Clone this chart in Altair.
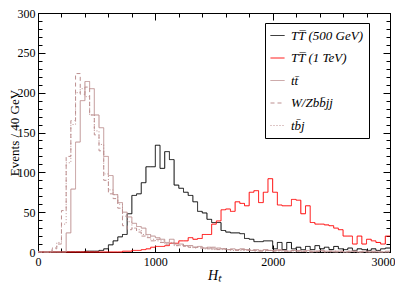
import altair as alt
import pandas as pd

# ---------------- data (events per 40 GeV bin) ----------------
bin_width = 40
n_bins = 75
bin_edges = [i * bin_width for i in range(n_bins + 1)]

series_names = ["TT\u0305 (500 GeV)", "TT\u0305 (1 TeV)", "tt\u0304", "W/Zbb\u0304jj", "tb\u0304j"]
series_colors = ["#000000", "#ff0000", "#bc8f8f", "#bc8f8f", "#bc8f8f"]
series_dash = [[1, 0], [1, 0], [1, 0], [4, 3], [1, 2]]

heavy_500 = [0, 0, 0, 0, 0, 0, 0, 0, 0, 0,
             1, 1, 1, 2, 4, 9, 14, 19, 22, 48,
             71, 73, 87, 107, 107, 134, 105, 126, 116, 84,
             80, 75, 71, 63, 51, 49, 41, 37, 37, 27,
             25, 24, 24, 23, 17, 16, 13, 13, 14, 14,
             4, 12, 3, 12, 4, 6, 3, 7, 3, 8,
             4, 6, 3, 7, 4, 3, 5, 2, 4, 3,
             2, 4, 2, 4, 5]

heavy_1000 = [0, 0, 0, 0, 0, 0, 0, 0, 0, 0,
              0, 0, 0, 0, 0, 0, 0, 0, 1, 1,
              2, 2, 3, 4, 6, 7, 7, 8, 11, 11,
              14, 14, 18, 16, 17, 22, 22, 35, 39, 53,
              54, 51, 63, 61, 58, 75, 77, 62, 75, 92,
              75, 59, 58, 58, 66, 65, 48, 58, 37, 35,
              35, 34, 33, 30, 28, 20, 20, 10, 20, 10,
              16, 14, 12, 10, 20]

ttbar = [0, 0, 0, 0, 0, 0, 24, 79, 138, 190,
         214, 205, 172, 156, 120, 96, 72, 62, 50, 44,
         36, 32, 30, 22, 20, 18, 16, 12, 16, 10,
         10, 8, 8, 6, 7, 5, 6, 4, 5, 4,
         3, 4, 3, 4, 3, 2, 3, 2, 3, 2,
         2, 3, 2, 1, 2, 2, 1, 2, 1, 1,
         2, 1, 1, 1, 1, 0, 1, 1, 0, 1,
         0, 1, 0, 0, 1]

wzbbjj = [0, 0, 0, 4, 10, 52, 120, 165, 224, 198,
          207, 172, 147, 127, 90, 73, 67, 55, 33, 28,
          30, 25, 20, 18, 14, 16, 12, 10, 11, 8,
          9, 7, 6, 6, 5, 5, 4, 6, 3, 4,
          3, 3, 2, 3, 2, 3, 2, 1, 2, 2,
          1, 2, 1, 1, 2, 1, 1, 1, 0, 1,
          1, 0, 1, 0, 1, 0, 0, 1, 0, 0,
          1, 0, 0, 0, 0]

tbj = [0, 0, 0, 5, 12, 35, 112, 160, 200, 205,
       195, 172, 152, 135, 98, 78, 72, 60, 45, 38,
       30, 28, 22, 20, 16, 14, 14, 10, 12, 8,
       8, 7, 6, 5, 6, 4, 5, 3, 4, 3,
       3, 2, 3, 2, 2, 2, 1, 2, 1, 2,
       1, 1, 1, 1, 0, 1, 1, 0, 1, 0,
       1, 0, 0, 1, 0, 0, 1, 0, 0, 0,
       0, 0, 1, 0, 0]

x_major = [0, 1000, 2000, 3000]
x_minor = list(range(0, 3001, 200))
y_major = list(range(0, 301, 50))
y_minor = list(range(0, 301, 10))

# ---------------- table ----------------
rows = []
for name, vals in zip(series_names, [heavy_500, heavy_1000, ttbar, wzbbjj, tbj]):
    for i, v in enumerate(vals):
        rows.append({"series": name, "x": bin_edges[i], "v": v})
    rows.append({"series": name, "x": bin_edges[-1], "v": vals[-1]})
df = pd.DataFrame(rows)

# ---------------- chart ----------------
W, H = 352, 239
serif = "Liberation Serif"
x_scale = alt.Scale(domain=[0, 3000], nice=False, zero=False)
y_scale = alt.Scale(domain=[0, 300], nice=False)

legend = alt.Legend(title=None, orient="none", legendX=227, legendY=10, direction="vertical",
                    strokeColor="black", fillColor="white", padding=5,
                    symbolType="stroke", symbolSize=196, symbolStrokeWidth=1,
                    labelFont=serif, labelFontSize=13, labelFontStyle="italic",
                    labelColor="black", labelOffset=6, rowPadding=7.5, labelLimit=200)

last_label = "datum.value >= 3000"

lines = alt.Chart(df).mark_line(interpolate="step-after", strokeWidth=1).encode(
    x=alt.X("x:Q", scale=x_scale,
            axis=alt.Axis(orient="bottom", values=x_major, format="d", ticks=False, domain=False,
                          grid=False, labelFont=serif, labelFontSize=12, labelPadding=4,
                          labelColor="black", labelFlush=False, labelOverlap=False,
                          labelAlign={"condition": {"test": last_label, "value": "right"}, "value": "center"},
                          labelOffset={"condition": {"test": last_label, "value": 5}, "value": 0},
                          title="H\u209C", titleFont=serif, titleFontSize=14,
                          titleFontStyle="italic", titleFontWeight="normal", titleY=27,
                          titleBaseline="alphabetic", titleColor="black")),
    y=alt.Y("v:Q", scale=y_scale,
            axis=alt.Axis(orient="left", values=y_major, ticks=False, domain=False, grid=False,
                          labelFont=serif, labelFontSize=12, labelPadding=3, labelColor="black",
                          labelFlush=False, labelOverlap=False,
                          title="Events / 40 GeV", titleFont=serif, titleFontSize=13,
                          titleFontWeight="normal", titleX=-20, titleY=H / 2,
                          titleBaseline="alphabetic", titleColor="black")),
    color=alt.Color("series:N", scale=alt.Scale(domain=series_names, range=series_colors), legend=legend),
    strokeDash=alt.StrokeDash("series:N", scale=alt.Scale(domain=series_names, range=series_dash), legend=legend),
)


def tick_axis(orient, values, size, offset):
    return alt.Axis(orient=orient, values=values, tickSize=size, offset=offset, labels=False,
                    domain=False, grid=False, title=None, tickColor="black", tickWidth=1)


def tick_layer(xa, ya):
    return alt.Chart(df).mark_point(opacity=0).encode(
        x=alt.X("x:Q", scale=x_scale, axis=xa),
        y=alt.Y("v:Q", scale=y_scale, axis=ya),
    )


t1 = tick_layer(tick_axis("top", x_minor, 4, -H), tick_axis("right", y_minor, 4, -W))
t2 = tick_layer(tick_axis("top", x_major, 7, -H), tick_axis("right", y_major, 7, -W))
t3 = tick_layer(tick_axis("bottom", x_minor, 4, -H), tick_axis("left", y_minor, 4, -W))
t4 = tick_layer(tick_axis("bottom", x_major, 7, -H), tick_axis("left", y_major, 7, -W))

chart = alt.layer(lines, t1, t2, t3, t4).resolve_axis(
    x="independent", y="independent"
).properties(
    width=W, height=H,
    padding={"left": 30, "top": 5, "right": 5, "bottom": 32},
    autosize=alt.AutoSizeParams(type="none"),
).configure_view(stroke="black", strokeWidth=1)

chart.save("out.html", embed_options={"renderer": "svg", "actions": False})
